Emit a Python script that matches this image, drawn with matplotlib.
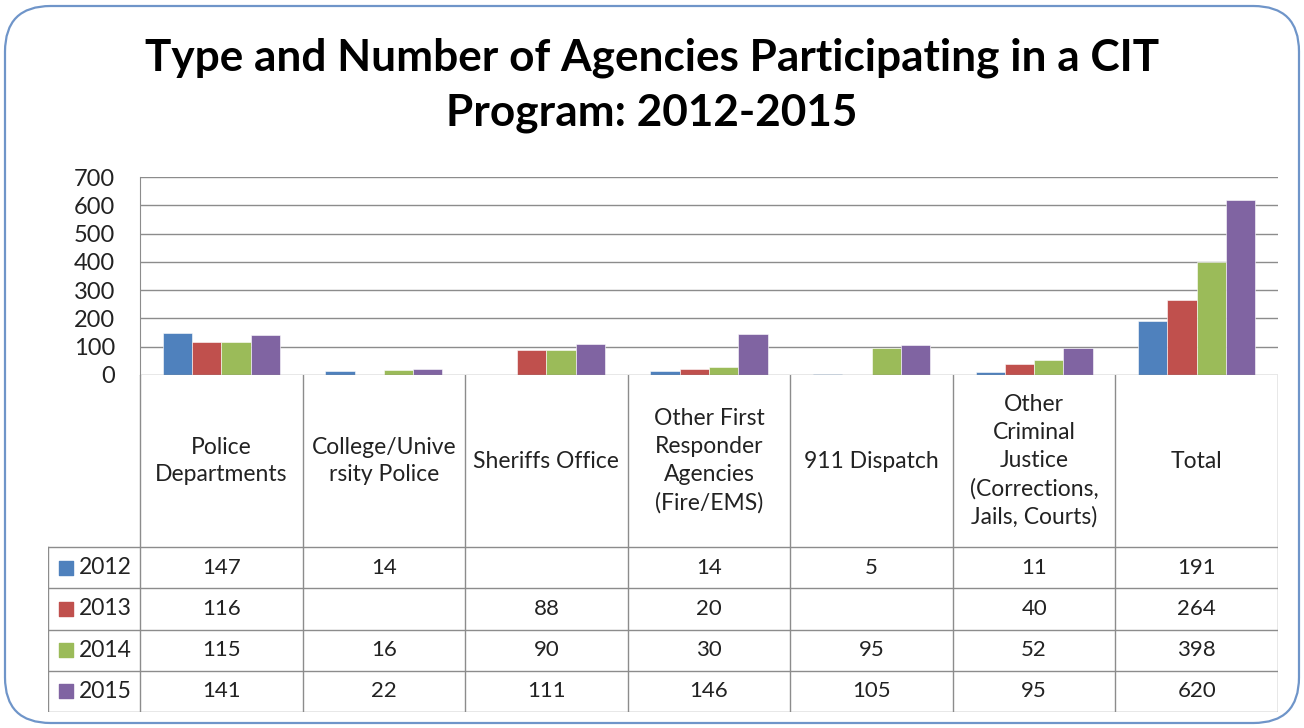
import matplotlib.pyplot as plt
from matplotlib.patches import FancyBboxPatch
import numpy as np

categories = ["Police\nDepartments", "College/Unive\nrsity Police", "Sheriffs Office",
              "Other First\nResponder\nAgencies\n(Fire/EMS)", "911 Dispatch",
              "Other\nCriminal\nJustice\n(Corrections,\nJails, Courts)", "Total"]
years = ["2012", "2013", "2014", "2015"]
v2012 = [147, 14, None, 14, 5, 11, 191]
v2013 = [116, None, 88, 20, None, 40, 264]
v2014 = [115, 16, 90, 30, 95, 52, 398]
v2015 = [141, 22, 111, 146, 105, 95, 620]
series = [v2012, v2013, v2014, v2015]
colors = ["#4F81BD", "#C0504D", "#9BBB59", "#8064A2"]
yticks = [0, 100, 200, 300, 400, 500, 600, 700]

plt.rcParams['font.family'] = ['Lato', 'DejaVu Sans']
W, H = 1304, 728
fig = plt.figure(figsize=(W / 100, H / 100), dpi=100)

# outer rounded frame
frame = FancyBboxPatch((5 / W, 5 / H), 1294 / W, 717 / H,
                       boxstyle="round,pad=0,rounding_size=0.035",
                       transform=fig.transFigure, fc="none", ec="#6F95C9", lw=1.6,
                       mutation_aspect=W / H, zorder=5)
fig.patches.append(frame)

fig.text(0.5, 1 - 58 / H, "Type and Number of Agencies Participating in a CIT",
         ha="center", va="center", fontsize=31.8, fontweight="bold")
fig.text(0.5, 1 - 113 / H, "Program: 2012-2015",
         ha="center", va="center", fontsize=31.8, fontweight="bold")

txt_c = "#222222"
num_fs = 16
lbl_fs = 16.5

# bar chart area
x0, x1, ytop, ybase, ytab = 140, 1278, 177, 375, 712
ax = fig.add_axes([x0 / W, 1 - ybase / H, (x1 - x0) / W, (ybase - ytop) / H])
n = len(categories)
ax.set_xlim(0, n)
ax.set_ylim(0, 700)
bw = 0.18
grid_c = "#8C8C8C"
for y in yticks[1:]:
    ax.axhline(y, color=grid_c, lw=1, zorder=0)
for k, vals in enumerate(series):
    xs = np.arange(n) + 0.5 + (k - 1.5) * bw
    hs = [v if v is not None else 0 for v in vals]
    ax.bar(xs, hs, width=bw, color=colors[k], edgecolor="white", linewidth=0.4, zorder=2)
ax.set_yticks(yticks)
ax.set_yticklabels([str(t) for t in yticks], fontsize=17, color=txt_c)
ax.tick_params(axis="y", length=0, pad=18)
ax.set_xticks([])
for s in ["top", "right", "bottom"]:
    ax.spines[s].set_visible(False)
ax.spines["left"].set_color(grid_c)
ax.axhline(0, color=grid_c, lw=1, zorder=3)

# data table below
cw = (x1 - x0) / n
lw_cols = (x0 - 48) / cw
tab = fig.add_axes([48 / W, 1 - ytab / H, (x1 - 48) / W, (ytab - ybase) / H])
tab.set_xlim(-lw_cols, n)
tab.set_ylim(ytab, ybase)
tab.axis("off")
row_h = (ytab - 547) / 4
row_edges = [547 + r * row_h for r in range(5)]
line_kw = dict(color=grid_c, lw=1)
for i in range(n + 1):
    tab.plot([i, i], [ybase, ytab], **line_kw)
tab.plot([-lw_cols, -lw_cols], [row_edges[0], ytab], **line_kw)
for ye in row_edges:
    tab.plot([-lw_cols, n], [ye, ye], **line_kw)
for i, cat in enumerate(categories):
    tab.text(i + 0.5, (ybase + row_edges[0]) / 2, cat, ha="center", va="center",
             fontsize=lbl_fs, color=txt_c, linespacing=1.4)
for k, vals in enumerate(series):
    yc = (row_edges[k] + row_edges[k + 1]) / 2
    tab.scatter([-lw_cols + 0.108], [yc], marker="s", s=115, color=colors[k])
    tab.text(-lw_cols + 0.19, yc, years[k], ha="left", va="center", fontsize=lbl_fs, color=txt_c)
    for i, v in enumerate(vals):
        if v is not None:
            tab.text(i + 0.5, yc, str(v), ha="center", va="center", fontsize=num_fs, color=txt_c)

fig.savefig("out.png", dpi=100)
